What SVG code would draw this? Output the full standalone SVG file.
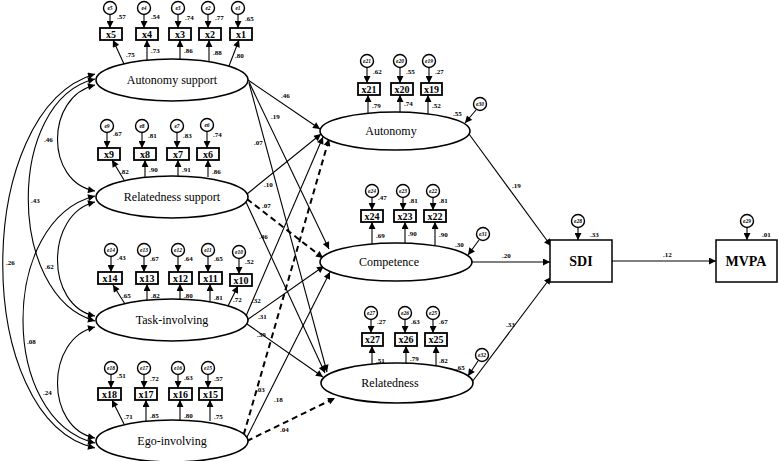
<svg xmlns="http://www.w3.org/2000/svg" width="778" height="461" viewBox="0 0 778 461">
<style>
.bg{fill:#fff}
.lat{fill:#fff;stroke:#000;stroke-width:1.6}
.box{fill:#fff;stroke:#000;stroke-width:1.8}
.obs{fill:#fff;stroke:#000;stroke-width:1.5}
.err{fill:#fff;stroke:#000;stroke-width:1.4}
.ln{fill:none;stroke:#000;stroke-width:1.1;marker-end:url(#a)}
.ds{fill:none;stroke:#000;stroke-width:2;stroke-dasharray:6,4;marker-end:url(#a)}
.cv{fill:none;stroke:#000;stroke-width:1.1;marker-start:url(#a);marker-end:url(#a)}
.t{font-family:"Liberation Serif","Times New Roman",serif;fill:#000}
.lt{font-size:12px;text-anchor:middle}
.bt{font-size:10px;font-weight:bold;text-anchor:middle}
.et{font-size:5.5px;font-weight:bold;font-style:italic;text-anchor:middle}
.c{font-size:7px;font-weight:bold}
.big{font-size:14px;font-weight:bold;text-anchor:middle}
</style>
<defs>
<marker id="a" viewBox="0 0 10 10" refX="10" refY="5" markerWidth="8" markerHeight="7" markerUnits="userSpaceOnUse" orient="auto-start-reverse"><path d="M0,0L10,5L0,10z" fill="#000"/></marker>
</defs>
<rect class="bg" x="0" y="0" width="778" height="461"/>

<g id="connectors">
<!-- covariances -->
<path class="cv" d="M95,85 C45,97 45,182 95,191"/>
<path class="cv" d="M95,79 C6,100 6,296 95,321"/>
<path class="cv" d="M95,74 C-28,110 -28,420 95,448"/>
<path class="cv" d="M95,202 C45,214 45,306 95,316"/>
<path class="cv" d="M95,196 C-1,220 -1,420 95,443"/>
<path class="cv" d="M95,327 C45,339 45,428 95,438"/>
<!-- structural paths -->
<line class="ln" x1="248" y1="80" x2="320" y2="129"/>
<line class="ln" x1="249" y1="82" x2="329" y2="249"/>
<line class="ln" x1="249" y1="83" x2="327" y2="372"/>
<line class="ln" x1="247" y1="194" x2="321" y2="134"/>
<line class="ds" x1="247" y1="199" x2="323" y2="258"/>
<line class="ln" x1="246" y1="202" x2="325" y2="373"/>
<line class="ln" x1="246" y1="316" x2="323" y2="137"/>
<line class="ln" x1="247" y1="320" x2="324" y2="266"/>
<line class="ln" x1="247" y1="324" x2="323" y2="377"/>
<line class="ds" x1="241" y1="444" x2="329" y2="139"/>
<line class="ln" x1="247" y1="437" x2="330" y2="272"/>
<line class="ds" x1="247" y1="441" x2="335" y2="398"/>
<line class="ln" x1="469" y1="134" x2="551" y2="246"/>
<line class="ln" x1="472" y1="262" x2="550" y2="262"/>
<line class="ln" x1="472" y1="382" x2="551" y2="277"/>
<line class="ln" x1="612" y1="261" x2="716" y2="261"/>
<!-- disturbances -->
<line class="ln" x1="476" y1="110" x2="465" y2="123"/>
<line class="ln" x1="479" y1="240" x2="468" y2="255"/>
<line class="ln" x1="478" y1="361" x2="468" y2="376"/>
<line class="ln" x1="578" y1="227.5" x2="578" y2="240"/>
<line class="ln" x1="747" y1="227.5" x2="747" y2="240"/>
<!-- AS indicators -->
<line class="ln" x1="110" y1="14.5" x2="110" y2="28"/>
<line class="ln" x1="144" y1="14.5" x2="144" y2="28"/>
<line class="ln" x1="178" y1="14.5" x2="178" y2="28"/>
<line class="ln" x1="208" y1="14.5" x2="208" y2="28"/>
<line class="ln" x1="238" y1="14.5" x2="238" y2="28"/>
<line class="ln" x1="124" y1="64" x2="113" y2="40"/>
<line class="ln" x1="147" y1="60" x2="147" y2="40"/>
<line class="ln" x1="180" y1="59" x2="180" y2="40"/>
<line class="ln" x1="209" y1="61" x2="209" y2="40"/>
<line class="ln" x1="229" y1="66" x2="239" y2="40"/>
<!-- RS indicators -->
<line class="ln" x1="107" y1="132.5" x2="107" y2="148"/>
<line class="ln" x1="142" y1="132.5" x2="142" y2="148"/>
<line class="ln" x1="177" y1="132.5" x2="177" y2="148"/>
<line class="ln" x1="207" y1="131.5" x2="207" y2="148"/>
<line class="ln" x1="124" y1="180" x2="112" y2="160"/>
<line class="ln" x1="145" y1="177" x2="145" y2="160"/>
<line class="ln" x1="178" y1="176" x2="178" y2="160"/>
<line class="ln" x1="208" y1="177" x2="208" y2="160"/>
<!-- TI indicators -->
<line class="ln" x1="111" y1="256.5" x2="111" y2="272"/>
<line class="ln" x1="144" y1="256.5" x2="144" y2="272"/>
<line class="ln" x1="178" y1="256.5" x2="178" y2="272"/>
<line class="ln" x1="208" y1="256.5" x2="208" y2="272"/>
<line class="ln" x1="239" y1="258.5" x2="239" y2="274"/>
<line class="ln" x1="125" y1="304" x2="113" y2="285"/>
<line class="ln" x1="147" y1="300" x2="147" y2="284"/>
<line class="ln" x1="180" y1="299" x2="180" y2="284"/>
<line class="ln" x1="210" y1="301" x2="210" y2="284"/>
<line class="ln" x1="228" y1="306" x2="238" y2="286"/>
<!-- EI indicators -->
<line class="ln" x1="111" y1="374.5" x2="111" y2="388"/>
<line class="ln" x1="144" y1="374.5" x2="144" y2="388"/>
<line class="ln" x1="178" y1="374.5" x2="178" y2="388"/>
<line class="ln" x1="208" y1="374.5" x2="208" y2="388"/>
<line class="ln" x1="124" y1="424" x2="112" y2="400"/>
<line class="ln" x1="146" y1="421" x2="146" y2="400"/>
<line class="ln" x1="180" y1="420" x2="180" y2="400"/>
<line class="ln" x1="210" y1="421" x2="210" y2="400"/>
<!-- Autonomy indicators -->
<line class="ln" x1="367" y1="67.5" x2="367" y2="83"/>
<line class="ln" x1="400" y1="67.5" x2="400" y2="83"/>
<line class="ln" x1="429" y1="67.5" x2="429" y2="83"/>
<line class="ln" x1="368" y1="113" x2="368" y2="95"/>
<line class="ln" x1="400" y1="112" x2="400" y2="95"/>
<line class="ln" x1="428" y1="114" x2="428" y2="95"/>
<!-- Competence indicators -->
<line class="ln" x1="372" y1="197.5" x2="372" y2="210"/>
<line class="ln" x1="403" y1="197.5" x2="403" y2="210"/>
<line class="ln" x1="433" y1="197.5" x2="433" y2="210"/>
<line class="ln" x1="372" y1="245" x2="372" y2="222"/>
<line class="ln" x1="405" y1="243" x2="405" y2="222"/>
<line class="ln" x1="435" y1="245" x2="435" y2="222"/>
<!-- Relatedness indicators -->
<line class="ln" x1="371" y1="319.5" x2="371" y2="333"/>
<line class="ln" x1="405" y1="319.5" x2="405" y2="333"/>
<line class="ln" x1="433" y1="319.5" x2="433" y2="333"/>
<line class="ln" x1="372" y1="367" x2="372" y2="346"/>
<line class="ln" x1="406" y1="365" x2="406" y2="346"/>
<line class="ln" x1="436" y1="367" x2="436" y2="346"/>
</g>

<g id="coefficients" class="t c">
<text x="44" y="142">.46</text>
<text x="31" y="203">.43</text>
<text x="6" y="265">.26</text>
<text x="45" y="269">.62</text>
<text x="27" y="344">.08</text>
<text x="43" y="395">.24</text>
<text x="281" y="98">.46</text>
<text x="271" y="119">.19</text>
<text x="254" y="145">.07</text>
<text x="264" y="187">.10</text>
<text x="262" y="208">.07</text>
<text x="259" y="239">.46</text>
<text x="252" y="303">.32</text>
<text x="258" y="319">.31</text>
<text x="257" y="337">.39</text>
<text x="256" y="392">.03</text>
<text x="274" y="402">.18</text>
<text x="280" y="432">.04</text>
<text x="512" y="188">.19</text>
<text x="502" y="258">.20</text>
<text x="506" y="327">.33</text>
<text x="663" y="257">.12</text>
<text x="453" y="116">.55</text>
<text x="455" y="247">.30</text>
<text x="456" y="370">.65</text>
<text x="590" y="237">.33</text>
<text x="762" y="237">.01</text>
<text x="117" y="19">.57</text><text x="151" y="19">.54</text><text x="185" y="20">.74</text><text x="215" y="20">.77</text><text x="245" y="21">.65</text>
<text x="126" y="57">.75</text><text x="151" y="53">.73</text><text x="184" y="53">.86</text><text x="213" y="55">.88</text><text x="235" y="58">.80</text>
<text x="113" y="136">.67</text><text x="148" y="138">.81</text><text x="183" y="138">.83</text><text x="213" y="137">.74</text>
<text x="120" y="174">.82</text><text x="149" y="172">.90</text><text x="182" y="172">.91</text><text x="212" y="174">.86</text>
<text x="117" y="260">.43</text><text x="150" y="261">.67</text><text x="184" y="261">.64</text><text x="214" y="261">.65</text><text x="245" y="264">.52</text>
<text x="122" y="298">.65</text><text x="151" y="298">.82</text><text x="184" y="298">.80</text><text x="214" y="300">.81</text><text x="233" y="302">.72</text>
<text x="117" y="378">.51</text><text x="150" y="381">.72</text><text x="184" y="380">.63</text><text x="214" y="381">.57</text>
<text x="124" y="419">.71</text><text x="150" y="418">.85</text><text x="184" y="418">.80</text><text x="214" y="419">.75</text>
<text x="373" y="74">.62</text><text x="406" y="74">.55</text><text x="435" y="74">.27</text>
<text x="372" y="108">.79</text><text x="404" y="106">.74</text><text x="432" y="108">.52</text>
<text x="378" y="200">.47</text><text x="409" y="203">.81</text><text x="439" y="203">.81</text>
<text x="376" y="238">.69</text><text x="408" y="236">.90</text><text x="439" y="237">.90</text>
<text x="377" y="324">.27</text><text x="411" y="324">.63</text><text x="439" y="324">.67</text>
<text x="376" y="363">.51</text><text x="410" y="361">.79</text><text x="439" y="363">.82</text>
</g>

<!-- latent variables -->
<g id="autonomy-support"><ellipse class="lat" cx="172" cy="80" rx="76" ry="21"/><text class="t lt" x="172" y="84">Autonomy support</text></g>
<g id="relatedness-support"><ellipse class="lat" cx="172" cy="197" rx="76" ry="21"/><text class="t lt" x="172" y="201">Relatedness support</text></g>
<g id="task-involving"><ellipse class="lat" cx="172" cy="320" rx="76" ry="21"/><text class="t lt" x="172" y="324">Task-involving</text></g>
<g id="ego-involving"><ellipse class="lat" cx="172" cy="441" rx="76" ry="21"/><text class="t lt" x="172" y="445">Ego-involving</text></g>
<g id="autonomy"><ellipse class="lat" cx="395" cy="131" rx="75" ry="19"/><text class="t lt" x="391" y="135">Autonomy</text></g>
<g id="competence"><ellipse class="lat" cx="396" cy="262" rx="76" ry="19"/><text class="t lt" x="389" y="266">Competence</text></g>
<g id="relatedness"><ellipse class="lat" cx="397" cy="383" rx="76" ry="20"/><text class="t lt" x="390" y="387">Relatedness</text></g>
<g id="sdi"><rect class="obs" x="550" y="240" width="62" height="42"/><text class="t big" x="581" y="266">SDI</text></g>
<g id="mvpa"><rect class="obs" x="716" y="240" width="61" height="42"/><text class="t big" x="746" y="266">MVPA</text></g>

<!-- observed indicators -->
<g id="x5"><rect class="box" x="100" y="28" width="22" height="12"/><text class="t bt" x="111" y="37.5">x5</text></g>
<g id="x4"><rect class="box" x="136" y="28" width="22" height="12"/><text class="t bt" x="147" y="37.5">x4</text></g>
<g id="x3"><rect class="box" x="169" y="28" width="22" height="12"/><text class="t bt" x="180" y="37.5">x3</text></g>
<g id="x2"><rect class="box" x="199" y="28" width="22" height="12"/><text class="t bt" x="210" y="37.5">x2</text></g>
<g id="x1"><rect class="box" x="230" y="28" width="22" height="12"/><text class="t bt" x="241" y="37.5">x1</text></g>
<g id="x9"><rect class="box" x="98" y="148" width="22" height="12"/><text class="t bt" x="109" y="157.5">x9</text></g>
<g id="x8"><rect class="box" x="134" y="148" width="22" height="12"/><text class="t bt" x="145" y="157.5">x8</text></g>
<g id="x7"><rect class="box" x="167" y="148" width="22" height="12"/><text class="t bt" x="178" y="157.5">x7</text></g>
<g id="x6"><rect class="box" x="197" y="148" width="22" height="12"/><text class="t bt" x="208" y="157.5">x6</text></g>
<g id="x14"><rect class="box" x="98" y="272" width="24" height="12"/><text class="t bt" x="110" y="281.5">x14</text></g>
<g id="x13"><rect class="box" x="136" y="272" width="22" height="12"/><text class="t bt" x="147" y="281.5">x13</text></g>
<g id="x12"><rect class="box" x="169" y="272" width="23" height="12"/><text class="t bt" x="180.5" y="281.5">x12</text></g>
<g id="x11"><rect class="box" x="199" y="272" width="23" height="12"/><text class="t bt" x="210.5" y="281.5">x11</text></g>
<g id="x10"><rect class="box" x="230" y="274" width="22" height="12"/><text class="t bt" x="241" y="283.5">x10</text></g>
<g id="x18"><rect class="box" x="98" y="388" width="23" height="12"/><text class="t bt" x="109.5" y="397.5">x18</text></g>
<g id="x17"><rect class="box" x="135" y="388" width="22" height="12"/><text class="t bt" x="146" y="397.5">x17</text></g>
<g id="x16"><rect class="box" x="169" y="388" width="23" height="12"/><text class="t bt" x="180.5" y="397.5">x16</text></g>
<g id="x15"><rect class="box" x="199" y="388" width="23" height="12"/><text class="t bt" x="210.5" y="397.5">x15</text></g>
<g id="x21"><rect class="box" x="358" y="83" width="22" height="12"/><text class="t bt" x="369" y="92.5">x21</text></g>
<g id="x20"><rect class="box" x="391" y="83" width="22" height="12"/><text class="t bt" x="402" y="92.5">x20</text></g>
<g id="x19"><rect class="box" x="421" y="83" width="21" height="12"/><text class="t bt" x="431.5" y="92.5">x19</text></g>
<g id="x24"><rect class="box" x="361" y="210" width="22" height="12"/><text class="t bt" x="372" y="219.5">x24</text></g>
<g id="x23"><rect class="box" x="394" y="210" width="22" height="12"/><text class="t bt" x="405" y="219.5">x23</text></g>
<g id="x22"><rect class="box" x="424" y="210" width="22" height="12"/><text class="t bt" x="435" y="219.5">x22</text></g>
<g id="x27"><rect class="box" x="362" y="333" width="21" height="13"/><text class="t bt" x="372.5" y="343">x27</text></g>
<g id="x26"><rect class="box" x="395" y="333" width="22" height="13"/><text class="t bt" x="406" y="343">x26</text></g>
<g id="x25"><rect class="box" x="425" y="333" width="22" height="13"/><text class="t bt" x="436" y="343">x25</text></g>

<!-- error terms -->
<g id="e5"><circle class="err" cx="110" cy="8" r="6.5"/><text class="t et" x="110" y="10">e5</text></g>
<g id="e4"><circle class="err" cx="144" cy="8" r="6.5"/><text class="t et" x="144" y="10">e4</text></g>
<g id="e3"><circle class="err" cx="178" cy="8" r="6.5"/><text class="t et" x="178" y="10">e3</text></g>
<g id="e2"><circle class="err" cx="208" cy="8" r="6.5"/><text class="t et" x="208" y="10">e2</text></g>
<g id="e1"><circle class="err" cx="238" cy="8" r="6.5"/><text class="t et" x="238" y="10">e1</text></g>
<g id="e9"><circle class="err" cx="107" cy="126" r="6.5"/><text class="t et" x="107" y="128">e9</text></g>
<g id="e8"><circle class="err" cx="142" cy="126" r="6.5"/><text class="t et" x="142" y="128">e8</text></g>
<g id="e7"><circle class="err" cx="177" cy="126" r="6.5"/><text class="t et" x="177" y="128">e7</text></g>
<g id="e6"><circle class="err" cx="207" cy="125" r="6.5"/><text class="t et" x="207" y="127">e6</text></g>
<g id="e14"><circle class="err" cx="111" cy="250" r="6.5"/><text class="t et" x="111" y="252">e14</text></g>
<g id="e13"><circle class="err" cx="144" cy="250" r="6.5"/><text class="t et" x="144" y="252">e13</text></g>
<g id="e12"><circle class="err" cx="178" cy="250" r="6.5"/><text class="t et" x="178" y="252">e12</text></g>
<g id="e11"><circle class="err" cx="208" cy="250" r="6.5"/><text class="t et" x="208" y="252">e11</text></g>
<g id="e10"><circle class="err" cx="239" cy="252" r="6.5"/><text class="t et" x="239" y="254">e10</text></g>
<g id="e18"><circle class="err" cx="111" cy="368" r="6.5"/><text class="t et" x="111" y="370">e18</text></g>
<g id="e17"><circle class="err" cx="144" cy="368" r="6.5"/><text class="t et" x="144" y="370">e17</text></g>
<g id="e16"><circle class="err" cx="178" cy="368" r="6.5"/><text class="t et" x="178" y="370">e16</text></g>
<g id="e15"><circle class="err" cx="208" cy="368" r="6.5"/><text class="t et" x="208" y="370">e15</text></g>
<g id="e21"><circle class="err" cx="367" cy="61" r="6.5"/><text class="t et" x="367" y="63">e21</text></g>
<g id="e20"><circle class="err" cx="400" cy="61" r="6.5"/><text class="t et" x="400" y="63">e20</text></g>
<g id="e19"><circle class="err" cx="429" cy="61" r="6.5"/><text class="t et" x="429" y="63">e19</text></g>
<g id="e24"><circle class="err" cx="372" cy="191" r="6.5"/><text class="t et" x="372" y="193">e24</text></g>
<g id="e23"><circle class="err" cx="403" cy="191" r="6.5"/><text class="t et" x="403" y="193">e23</text></g>
<g id="e22"><circle class="err" cx="433" cy="191" r="6.5"/><text class="t et" x="433" y="193">e22</text></g>
<g id="e27"><circle class="err" cx="371" cy="313" r="6.5"/><text class="t et" x="371" y="315">e27</text></g>
<g id="e26"><circle class="err" cx="405" cy="313" r="6.5"/><text class="t et" x="405" y="315">e26</text></g>
<g id="e25"><circle class="err" cx="433" cy="313" r="6.5"/><text class="t et" x="433" y="315">e25</text></g>
<g id="e30"><circle class="err" cx="480" cy="104" r="6.5"/><text class="t et" x="480" y="106">e30</text></g>
<g id="e31"><circle class="err" cx="483" cy="234" r="6.5"/><text class="t et" x="483" y="236">e31</text></g>
<g id="e32"><circle class="err" cx="482" cy="355" r="6.5"/><text class="t et" x="482" y="357">e32</text></g>
<g id="e28"><circle class="err" cx="578" cy="221" r="6.5"/><text class="t et" x="578" y="223">e28</text></g>
<g id="e29"><circle class="err" cx="747" cy="221" r="6.5"/><text class="t et" x="747" y="223">e29</text></g>
</svg>
